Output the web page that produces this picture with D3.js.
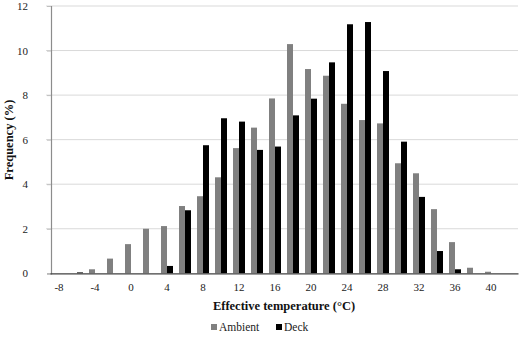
<!DOCTYPE html>
<html>
<head>
<meta charset="utf-8">
<script src="https://cdnjs.cloudflare.com/ajax/libs/d3/7.8.5/d3.min.js"></script>
<style>
  body { margin: 0; background: #fff; }
  svg { display: block; }
</style>
</head>
<body>
<script>
// temperature bins (°C), every 2 degrees
const categories = [-8,-6,-4,-2,0,2,4,6,8,10,12,14,16,18,20,22,24,26,28,30,32,34,36,38,40,42];
const ambient = [0,0,0.18,0.66,1.31,2.0,2.12,3.02,3.46,4.31,5.62,6.54,7.85,10.29,9.17,8.87,7.61,6.88,6.73,4.94,4.49,2.88,1.4,0.25,0.07,0];
const deck = [0,0.04,0,0,0,0,0.33,2.83,5.75,6.96,6.81,5.54,5.69,7.09,7.84,9.47,11.18,11.28,9.08,5.91,3.43,1.0,0.18,0,0,0];
const xTickLabels = [-8,-4,0,4,8,12,16,20,24,28,32,36,40];
const yTicks = [0,2,4,6,8,10,12];

const width = 520, height = 337;
const margin = {top: 6, right: 2, bottom: 63.7, left: 50};
const serif = "Liberation Serif";

const svg = d3.select("body")
  .append("svg")
  .attr("width", width)
  .attr("height", height);

const x = d3.scaleBand()
  .domain(categories)
  .range([margin.left, width - margin.right]);

const y = d3.scaleLinear()
  .domain([0, 12])
  .range([height - margin.bottom, margin.top]);

const bw = x.bandwidth() / 3;

// gridlines
svg.append("g")
  .selectAll("line")
  .data(yTicks.filter(d => d > 0))
  .enter()
  .append("line")
  .attr("x1", margin.left - 4)
  .attr("x2", width - margin.right)
  .attr("y1", d => y(d))
  .attr("y2", d => y(d))
  .attr("stroke", "#d9d9d9")
  .attr("stroke-width", 1);

// y axis, labels drawn by hand so they sit well left of the line
const yAxis = svg.append("g")
  .attr("transform", "translate(" + (margin.left + 1) + ",0)")
  .call(d3.axisLeft(y).tickValues(yTicks).tickSize(4).tickFormat(""));
yAxis.select(".domain").attr("stroke", "#8c8c8c").attr("stroke-width", 1.2);
yAxis.selectAll(".tick line").attr("stroke", "#bfbfbf");

svg.append("g")
  .selectAll("text")
  .data(yTicks)
  .enter()
  .append("text")
  .attr("x", 28)
  .attr("y", d => y(d) + 4)
  .attr("text-anchor", "end")
  .attr("font-family", serif)
  .attr("font-size", 11)
  .attr("fill", "#222")
  .text(d => d);

// bars
svg.append("g")
  .selectAll("rect")
  .data(categories.map((c, i) => ({c: c, v: ambient[i]})).filter(d => d.v > 0))
  .enter()
  .append("rect")
  .attr("x", d => x(d.c) + x.bandwidth() / 2 - bw)
  .attr("width", bw)
  .attr("y", d => y(d.v))
  .attr("height", d => y(0) - y(d.v))
  .attr("fill", "#808080");

svg.append("g")
  .selectAll("rect")
  .data(categories.map((c, i) => ({c: c, v: deck[i]})).filter(d => d.v > 0))
  .enter()
  .append("rect")
  .attr("x", d => x(d.c) + x.bandwidth() / 2)
  .attr("width", bw)
  .attr("y", d => y(d.v))
  .attr("height", d => y(0) - y(d.v))
  .attr("fill", "#000");

// x axis
const xAxis = svg.append("g")
  .attr("transform", "translate(0," + y(0) + ")")
  .call(d3.axisBottom(x).tickValues(xTickLabels).tickSize(0).tickPadding(10))
  .attr("font-family", serif)
  .attr("font-size", 11);
xAxis.select(".domain").attr("stroke", "#404040").attr("stroke-width", 1.2);
xAxis.selectAll(".tick text").attr("fill", "#222");

// axis titles
svg.append("text")
  .attr("x", 284)
  .attr("y", 310)
  .attr("text-anchor", "middle")
  .attr("font-family", serif)
  .attr("font-size", 12.5)
  .attr("font-weight", "bold")
  .attr("fill", "#111")
  .text("Effective temperature (°C)");

svg.append("text")
  .attr("transform", "translate(13,140) rotate(-90)")
  .attr("text-anchor", "middle")
  .attr("font-family", serif)
  .attr("font-size", 12.5)
  .attr("font-weight", "bold")
  .attr("fill", "#111")
  .text("Frequency (%)");

// legend
const legend = svg.append("g").attr("transform", "translate(211,331)");
const items = [{name: "Ambient", color: "#808080", dx: 0}, {name: "Deck", color: "#000", dx: 65}];
items.forEach(it => {
  legend.append("rect")
    .attr("x", it.dx)
    .attr("y", -7)
    .attr("width", 6)
    .attr("height", 6)
    .attr("fill", it.color);
  legend.append("text")
    .attr("x", it.dx + 8)
    .attr("y", 0)
    .attr("font-family", serif)
    .attr("font-size", 11.5)
    .attr("fill", "#222")
    .text(it.name);
});
</script>
</body>
</html>
